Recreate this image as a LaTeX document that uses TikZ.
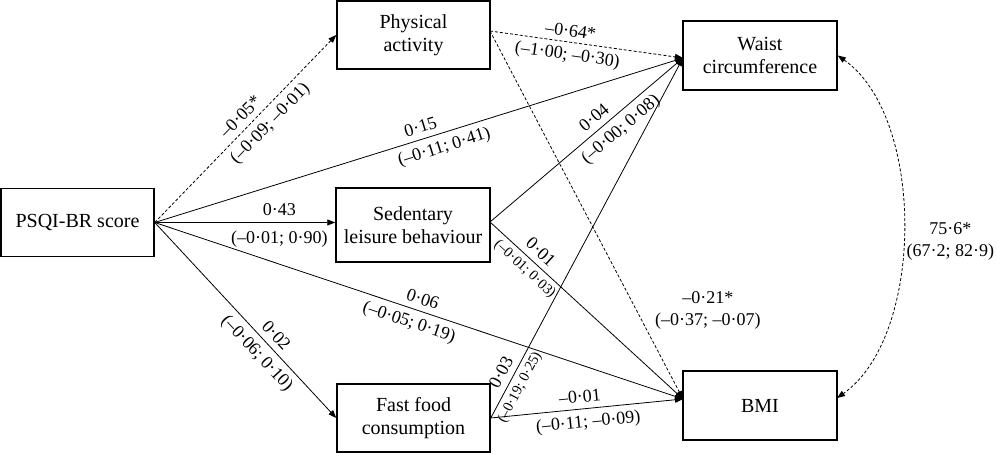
\documentclass[tikz,border=0pt]{standalone}
\usepackage{fontspec}
\setmainfont{Liberation Serif}
\usetikzlibrary{arrows.meta}
\begin{document}
\begin{tikzpicture}[x=1pt,y=1pt,
  box/.style={draw, line width=1.5pt, minimum width=153pt, minimum height=68pt, align=center, inner sep=0pt, font=\fontsize{20}{23}\selectfont},
  arr/.style={line width=0.8pt, -{Triangle[length=8pt,width=6pt]}},
  dsh/.style={dash pattern=on 3pt off 2pt},
  lab/.style={font=\fontsize{18}{21}\selectfont, sloped, inner sep=2pt},
  up/.style={lab, above=4pt},
  dn/.style={lab, below=4pt},
  sdn/.style={font=\fontsize{14.5}{16}\selectfont, sloped, inner sep=1.5pt, below=3pt},
  plab/.style={font=\fontsize{18}{22}\selectfont, align=center, inner sep=1pt}]
\useasboundingbox (0,0) rectangle (997,454);
% boxes
\node[box] (psqi) at (77.5,231.5) {PSQI-BR score};
\node[box] (pa)   at (413.5,419) {Physical\\activity};
\node[box, minimum width=154pt, minimum height=69pt] (wc) at (760,398.5) {Waist\\circumference};
\node[box, minimum width=154pt, minimum height=74pt] (sed) at (413,229) {Sedentary\\leisure behaviour};
\node[box] (ff) at (413.5,36) {Fast food\\consumption};
\node[box, minimum width=154pt, minimum height=69pt] (bmi) at (760,48.5) {BMI};
% anchor points
\coordinate (wIn) at (683,396);
\coordinate (bIn) at (683,55);
\coordinate (sOut) at (490,232);
\coordinate (paOut) at (490,423);
\coordinate (bmiE) at (837,56);
% PSQI paths
\draw[arr,dsh] (psqi.east) -- node[up,pos=0.52]{–0·05*} node[dn,pos=0.58]{(–0·09; –0·01)} (pa.west);
\draw[arr] (psqi.east) -- node[up,pos=0.51]{0·15} node[dn,pos=0.54]{(–0·11; 0·41)} (wIn);
\draw[arr] (psqi.east) -- node[up,pos=0.69]{0·43} node[lab,below=6pt,pos=0.69]{(–0·01; 0·90)} (sed.west |- psqi.east);
\draw[arr] (psqi.east) -- node[up,pos=0.5]{0·06} node[dn,pos=0.49]{(–0·05; 0·19)} (bIn);
\draw[arr] (psqi.east) -- node[up,pos=0.62]{0·02} node[dn,pos=0.62]{(–0·06; 0·10)} (ff.west);
% physical activity
\draw[arr,dsh] (paOut) -- node[lab,above=3pt,pos=0.41]{–0·64*} node[lab,below=3pt,pos=0.41]{(–1·00; –0·30)} (wIn);
\draw[arr,dsh] (paOut) -- node[plab,pos=0.73,xshift=77pt,yshift=-11pt]{–0·21*\\(–0·37; –0·07)} (bIn);
% sedentary
\draw[arr] (sOut) -- node[up,pos=0.58]{0·04} node[dn,pos=0.63]{(–0·00; 0·08)} (wIn);
\draw[arr] (sOut) -- node[up,pos=0.22]{0·01} node[sdn,pos=0.22]{(–0·01; 0·03)} (bIn);
% fast food
\draw[arr] (ff.east) -- node[up,pos=0.11]{0·03} node[sdn,pos=0.1]{(–0·19; 0·25)} (wIn);
\draw[arr] (ff.east) -- node[up,pos=0.47]{–0·01} node[dn,pos=0.5]{(–0·11; –0·09)} (bIn);
% covariance
\draw[dsh, line width=0.8pt, {Triangle[length=8pt,width=6pt]}-{Triangle[length=8pt,width=6pt]}] (wc.east) to[out=-35,in=35,looseness=0.8] node[plab,pos=0.5,right=2pt,yshift=-15pt]{75·6*\\(67·2; 82·9)} (bmiE);
\end{tikzpicture}
\end{document}
